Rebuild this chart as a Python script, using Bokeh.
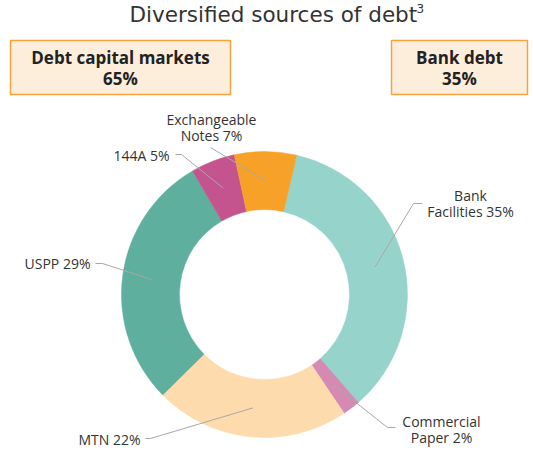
import numpy as np
from bokeh.plotting import figure
from bokeh.models import Range1d, ColumnDataSource
from bokeh.core.properties import value
from bokeh.embed import file_html
from bokeh.resources import INLINE

# ---- data ----
categories = ["Bank Facilities", "Commercial Paper", "MTN", "USPP", "144A", "Exchangeable Notes"]
shares = [35, 2, 22, 29, 5, 7]
colors = ["#96D4CB", "#D58AB3", "#FDDBAC", "#5EAF9D", "#C4548E", "#F7A128"]
label_lines = [["Bank", "Facilities 35%"], ["Commercial", "Paper 2%"], ["MTN 22%"],
               ["USPP 29%"], ["144A 5%"], ["Exchangeable", "Notes 7%"]]
group_names = ["Debt capital markets", "Bank debt"]
group_shares = ["65%", "35%"]
title_text = "Diversified sources of debt"

W, H = 533, 450
FONT = "Open Sans"
TFONT = "DejaVu Sans"
TXT = "#333333"

def Y(sy):  # screen y -> data y
    return H - sy

p = figure(width=W, height=H, output_backend="svg", toolbar_location=None,
           x_range=Range1d(0, W), y_range=Range1d(0, H), min_border=0)
p.axis.visible = False
p.grid.visible = False
p.outline_line_color = None
p.background_fill_color = "white"
p.border_fill_color = "white"

# ---- donut ----
cx, cy = 264, Y(294)
r_in, r_out = 85, 143
start_deg = 13.0  # clockwise from 12 o'clock
vals = np.array(shares, dtype=float)
frac = vals / vals.sum()
cum = np.concatenate([[0], np.cumsum(frac)]) * 360.0
theta0 = start_deg + cum[:-1]
theta1 = start_deg + cum[1:]
a_start = np.radians(90 - theta1)
a_end = np.radians(90 - theta0)
src = ColumnDataSource(dict(s=a_start, e=a_end, c=colors))
p.annular_wedge(x=cx, y=cy, inner_radius=r_in, outer_radius=r_out,
                start_angle="s", end_angle="e", direction="anticlock",
                fill_color="c", line_color="c", line_width=0.5, source=src)

# ---- leader lines & labels ----
mid = np.radians((theta0 + theta1) / 2)
r_mid = (r_in + r_out) / 2
ax = cx + r_mid * np.sin(mid)
ay = cy + r_mid * np.cos(mid)
elbows = [(413, 203), (387, 427), (150, 438), (102, 263), (181, 154), None]
ends = [(422, 203), (395, 427), (145, 438), (95, 263), (175, 154), (210, 147)]
label_pos = [(470, 195, "center"), (441, 421, "center"), (140, 439, "right"),
             (90, 263, "right"), (169, 155, "right"), (211, 119, "center")]
for i in range(len(categories)):
    xs = [ax[i]]
    ys = [ay[i]]
    if elbows[i] is not None:
        xs.append(elbows[i][0]); ys.append(Y(elbows[i][1]))
    xs.append(ends[i][0]); ys.append(Y(ends[i][1]))
    p.line(xs, ys, line_color="#A8A8A8", line_width=1)
    lx, ly, al = label_pos[i]
    for j, t in enumerate(label_lines[i]):
        p.text(x=[lx], y=[Y(ly + 16 * j)], text=[t], text_font=value(FONT),
               text_font_size="14px", text_color=TXT, text_align=al,
               text_baseline="middle")

# ---- title ----
p.text(x=[129], y=[Y(14)], text=[title_text], text_font=value(TFONT),
       text_font_size="21.5px", text_color=TXT, text_align="left", text_baseline="middle")
p.text(x=[416], y=[Y(8)], text=["3"], text_font=value(TFONT),
       text_font_size="12px", text_color=TXT, text_align="left", text_baseline="middle")

# ---- group boxes ----
boxes = [(10, 230), (391, 527)]
for (x0, x1), name, sh in zip(boxes, group_names, group_shares):
    p.quad(left=x0, right=x1, top=Y(40), bottom=Y(94), fill_color="#FDEEDC",
           line_color="#F5A240", line_width=1.5)
    xc = (x0 + x1) / 2
    p.text(x=[xc], y=[Y(57)], text=[name], text_font=value(FONT), text_font_size="17px",
           text_font_style="bold", text_color="#222222", text_align="center",
           text_baseline="middle")
    p.text(x=[xc], y=[Y(78)], text=[sh], text_font=value(FONT), text_font_size="17px",
           text_font_style="bold", text_color="#222222", text_align="center",
           text_baseline="middle")

open("out.html", "w").write(file_html(p, INLINE))
